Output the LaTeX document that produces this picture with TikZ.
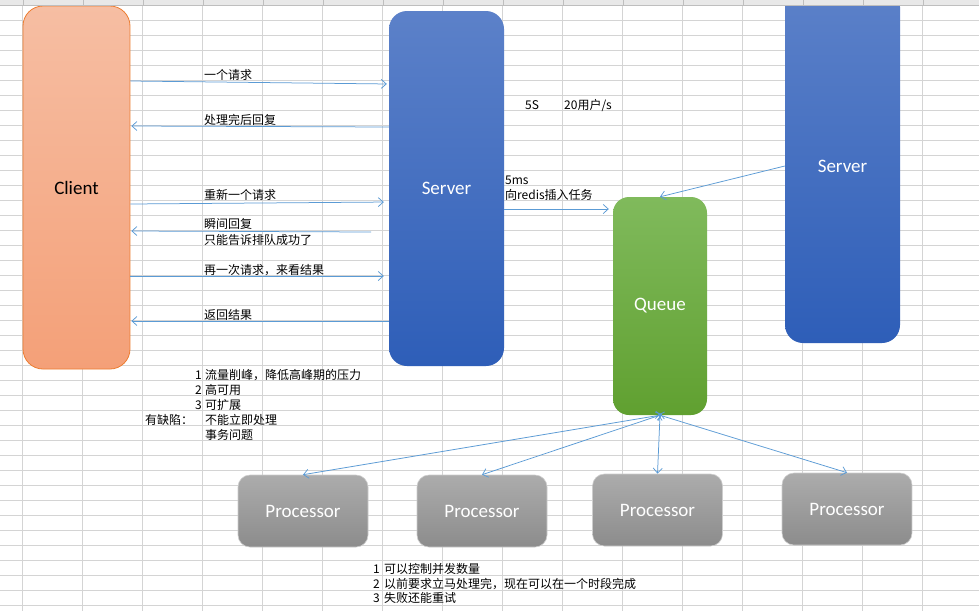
\documentclass[tikz,border=0pt]{standalone}
\usepackage{fontspec}
\setmainfont{Carlito}
\newfontfamily\cjk{Noto Sans CJK SC}
\usepackage{xcolor}
\usepackage{tikz}
\usetikzlibrary{arrows.meta, positioning, calc}
\definecolor{mqclTop}{RGB}{246,190,163}
\definecolor{mqclBot}{RGB}{244,160,120}
\definecolor{mqclEdge}{RGB}{237,125,49}
\definecolor{mqsvTop}{RGB}{92,129,201}
\definecolor{mqsvBot}{RGB}{46,94,184}
\definecolor{mqquTop}{RGB}{128,186,92}
\definecolor{mqquBot}{RGB}{96,160,48}
\definecolor{mqprTop}{RGB}{172,172,172}
\definecolor{mqprBot}{RGB}{140,140,140}
\definecolor{mqprEdge}{RGB}{205,205,205}
\definecolor{mqline}{RGB}{91,155,213}
\definecolor{mqgrid}{RGB}{212,212,212}
\definecolor{mqhead}{RGB}{232,232,232}
\definecolor{mqheadline}{RGB}{190,190,190}

\begin{document}
\begin{tikzpicture}[x=1pt, y=-1pt,
  >={Straight Barb[length=5pt,width=9pt]},
  gridline/.style={draw=mqgrid, line width=0.75pt},
  box/.style={inner sep=0pt, font=\fontsize{19}{22}\selectfont},
  clientbox/.style={box, rounded corners=20pt, top color=mqclTop, bottom color=mqclBot,
                    draw=mqclEdge, line width=0.8pt, minimum width=107pt, minimum height=363pt},
  serverbox/.style={box, rounded corners=18pt, top color=mqsvTop, bottom color=mqsvBot,
                    text=white, minimum width=115pt, minimum height=355pt},
  queuebox/.style={box, rounded corners=16pt, top color=mqquTop, bottom color=mqquBot,
                   text=white, minimum width=94pt, minimum height=218pt},
  procbox/.style={box, rounded corners=12pt, top color=mqprTop, bottom color=mqprBot,
                  draw=mqprEdge, line width=0.6pt, text=white, minimum width=130pt, minimum height=72pt},
  msg/.style={draw=mqline, line width=0.75pt},
  note/.style={font=\cjk\fontsize{12}{14}\selectfont, inner sep=0pt, anchor=west},
]
\useasboundingbox (0,0) rectangle (979,611);

% ---- sheet grid ----
\fill[white] (0,0) rectangle (979,611);
\foreach \k in {1,...,40}
  \draw[gridline] (0,5.7+15*\k) -- (979,5.7+15*\k);
\foreach \k in {0,...,15}
  \draw[gridline] (22.7+60*\k,5.5) -- (22.7+60*\k,611);

% ---- boxes ----
\node[clientbox] (client) at (76.5,187.5) {Client};
\node[serverbox] (server) at (446.5,188.5) {Server};
\node[serverbox, minimum height=354pt] (serverR) at (842.5,166) {Server};
\node[queuebox] (queue) at (660,306) {Queue};

% ---- sheet header ----
\fill[mqhead] (0,0) rectangle (979,5.5);
\draw[mqheadline] (0,5.5) -- (979,5.5);
\foreach \k in {0,...,15}
  \draw[mqheadline] (22.7+60*\k,0) -- (22.7+60*\k,5.5);

% ---- client / server talk ----
\draw[msg,->, shorten >=2pt] (client.east |- 0,81) -- (server.west |- 0,84);
\node[note] (lblAsk) at (204,75) {一个请求};
\draw[msg,->, shorten >=1pt] (server.west |- 0,127) -- (client.east |- 0,126);
\node[note] (lblReply) at (204,120) {处理完后回复};
\draw[msg,->, shorten >=5pt] (client.east |- 0,204) -- (server.west |- 0,202);
\node[note] (lblAgain) at (204,195) {重新一个请求};
\coordinate (quick) at (371,232);
\draw[msg,->, shorten >=1pt] (quick) -- (client.east |- 0,231);
\node[note] (lblQuick) at (204,224) {瞬间回复};
\node[note] (lblQueued) at (204,240) {只能告诉排队成功了};
\draw[msg,->, shorten >=5pt] (client.east |- 0,276) -- (server.west |- 0,276);
\node[note] (lblPoll) at (204,270) {再一次请求，来看结果};
\draw[msg,->, shorten >=1pt] (server.west |- 0,321) -- (client.east |- 0,321);
\node[note] (lblResult) at (204,315) {返回结果};

% ---- server to queue ----
\node[note, anchor=center] (rateTime) at (532,105) {5S};
\node[note] (rateUsers) at (564,105) {20用户/s};
\node[note] (pushTime) at (505,180) {5ms};
\node[note] (pushTask) at (505,195) {向redis插入任务};
\draw[msg,->, shorten >=4pt] (server.east |- 0,209) -- (queue.west |- 0,209);
\draw[msg,->] (serverR.west |- 0,166) -- (queue.north);

% ---- processors ----
\foreach \n/\x/\y in {A/303/511, B/482/511, C/657.5/510, D/847/509}{
  \node[procbox] (proc\n) at (\x,\y) {Processor};
  \draw[msg,<->, shorten <=-2pt] (queue.south) -- (proc\n.north);
}

% ---- notes ----
\foreach \n/\y/\t in {1/375/流量削峰，降低高峰期的压力, 2/390/高可用, 3/405/可扩展}{
  \node[note, anchor=east] (gainNum\n) at (202,\y) {\n};
  \node[note] (gain\n) at (205,\y) {\t};
}
\node[note] (flawHead) at (145,420) {有缺陷：};
\node[note] (flaw1) at (205,420) {不能立即处理};
\node[note] (flaw2) at (205,435) {事务问题};
\foreach \n/\y/\t in {1/569/可以控制并发数量, 2/584/以前要求立马处理完，现在可以在一个时段完成, 3/598/失败还能重试}{
  \node[note, anchor=east] (procNum\n) at (380,\y) {\n};
  \node[note] (procNote\n) at (384,\y) {\t};
}
\end{tikzpicture}
\end{document}
